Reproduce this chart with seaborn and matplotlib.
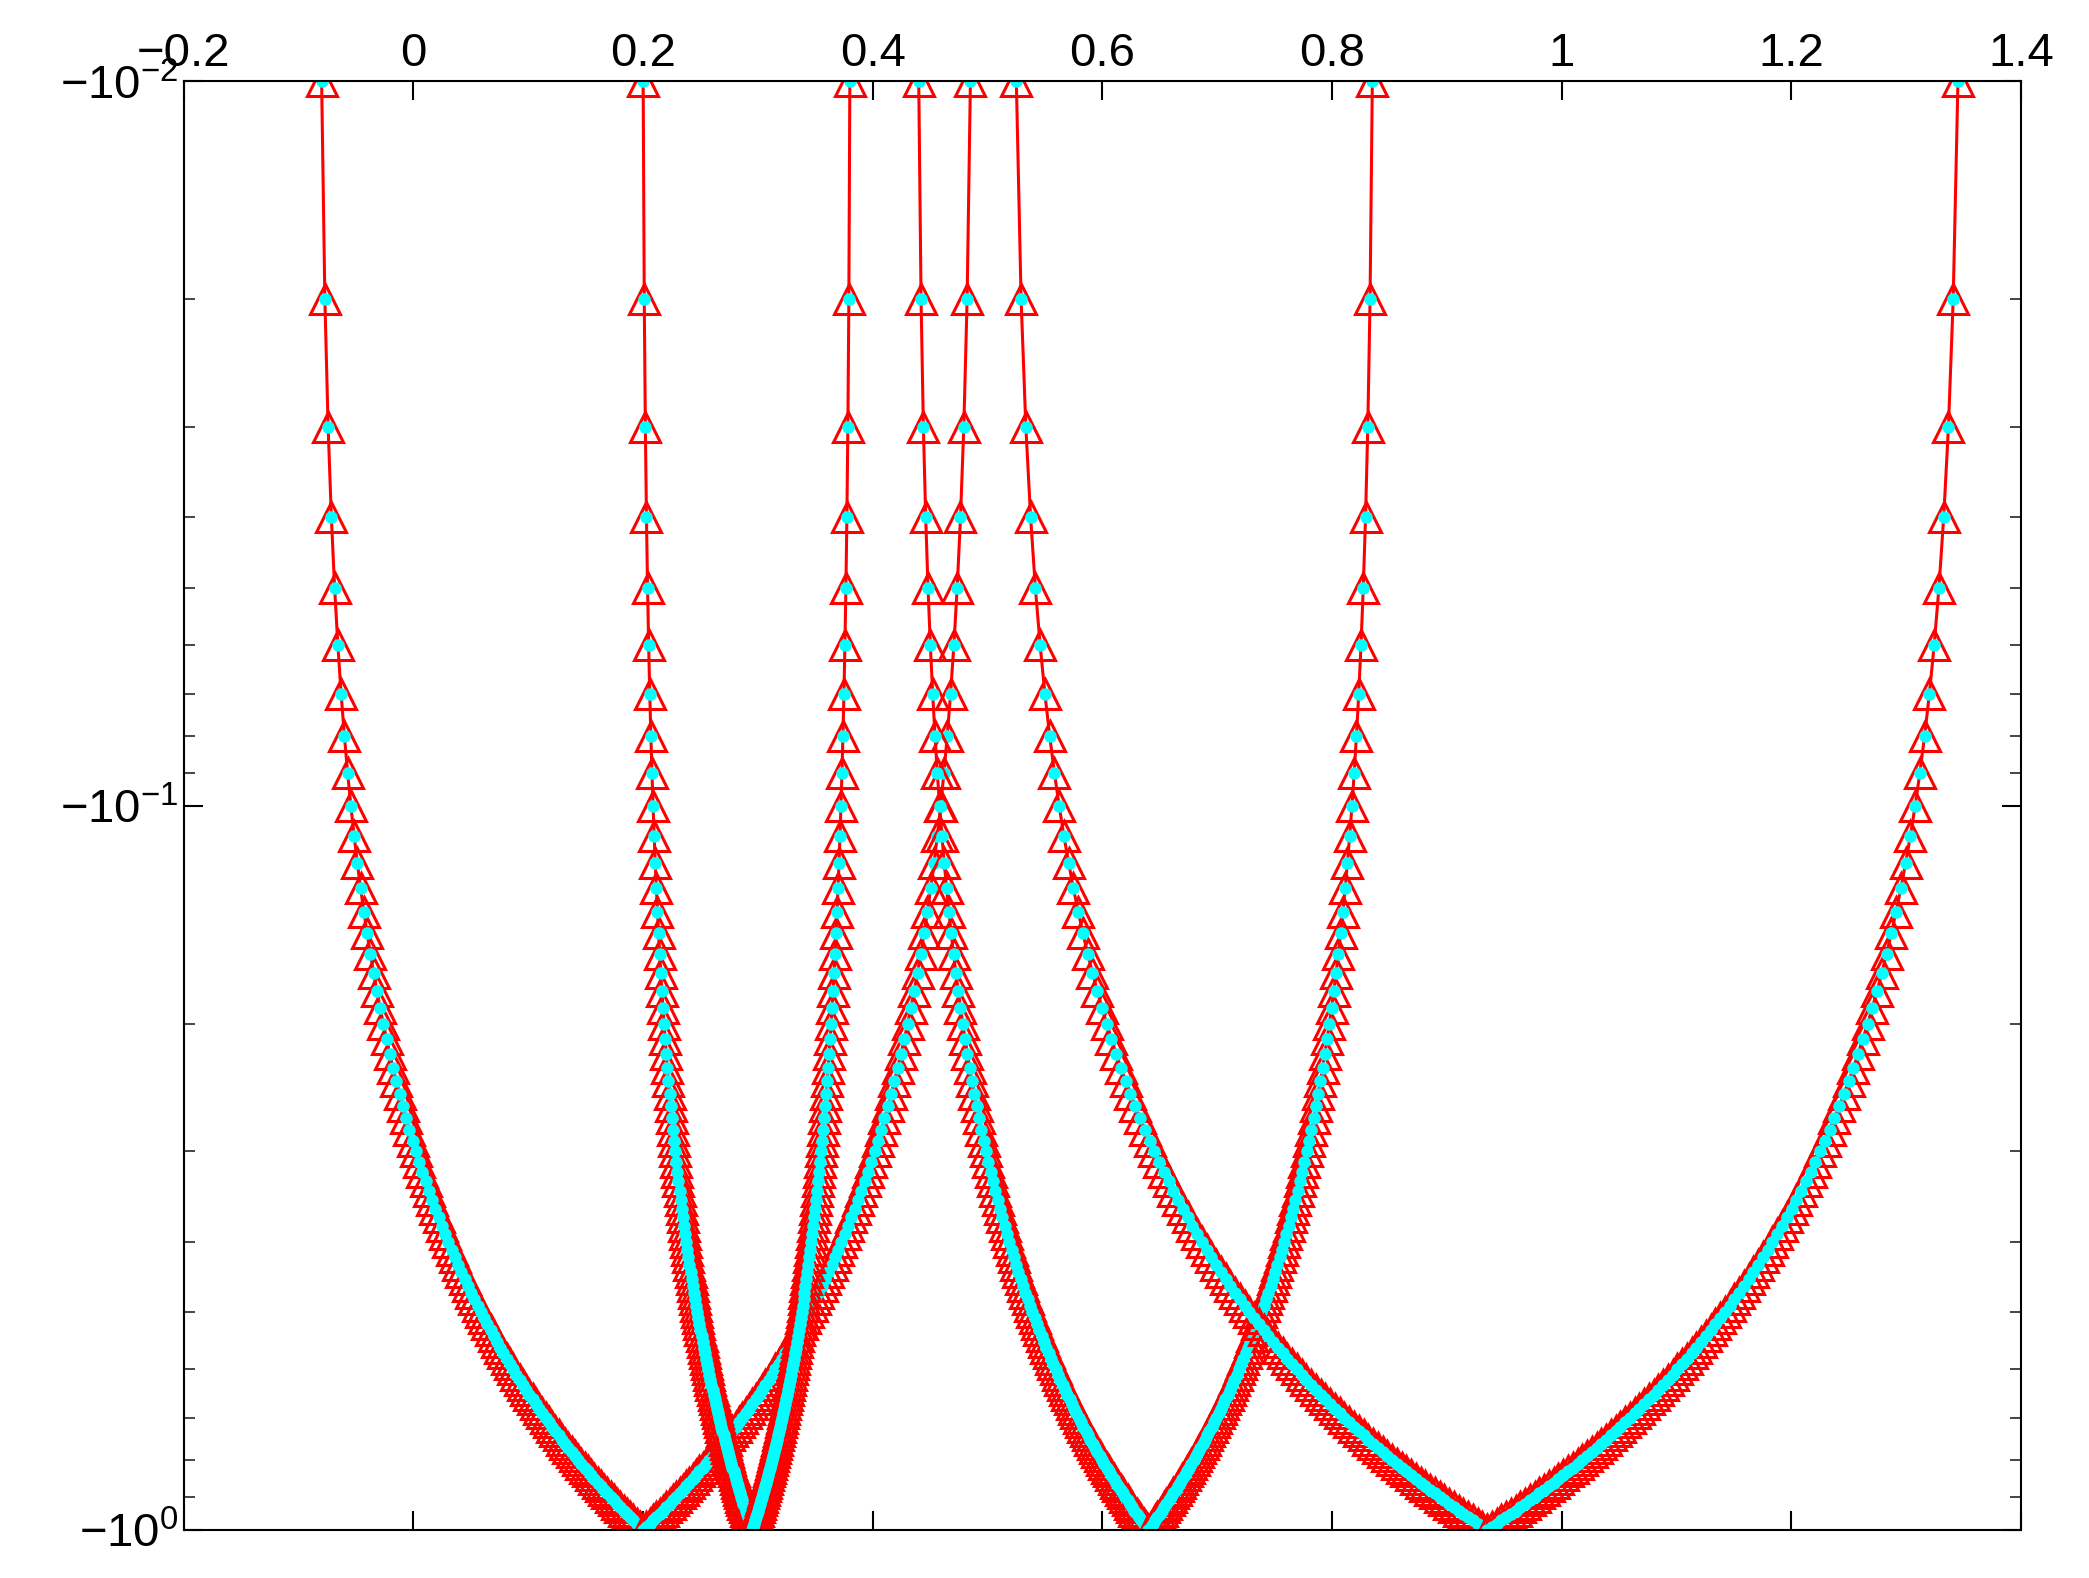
import numpy as np
import matplotlib
matplotlib.use("Agg")
import matplotlib.pyplot as plt
import seaborn as sns
from matplotlib.ticker import FixedLocator, FixedFormatter, NullFormatter

sns.set_theme(style="white")
plt.rcParams['font.family'] = ['Liberation Sans', 'DejaVu Sans']
plt.rcParams['mathtext.fontset'] = 'custom'
plt.rcParams['mathtext.rm'] = 'Liberation Sans'
plt.rcParams['mathtext.it'] = 'Liberation Sans'

# magnitude of y values (plotted as negative on log axis)
y_mag = np.arange(1, 101) / 100.0
# each curve is straight in x vs y: top x (at y=-0.01) and bottom x (at y=-1)
x_top = [-0.08, 0.485, 0.20, 0.38, 0.44, 0.835, 0.525, 1.345]
x_bot = [0.20, 0.20, 0.295, 0.295, 0.64, 0.64, 0.935, 0.935]

fig = plt.figure(figsize=(20.89, 15.78), dpi=100)
ax = fig.add_axes([0.088, 0.0304, 0.8795, 0.918])
for xt, xb in zip(x_top, x_bot):
    x = np.interp(y_mag, [0.01, 1.0], [xt, xb])
    sns.lineplot(x=x, y=y_mag, ax=ax, color='red', lw=2.2, marker='^', ms=21,
                 mfc='none', mec='red', mew=2.2, sort=False, estimator=None)
    ax.plot(x, y_mag, ls='none', marker='o', ms=8, color='cyan', mec='cyan')

ax.set_yscale('log')
ax.set_ylim(1.0, 0.01)
ax.set_xlim(-0.2, 1.4)
ax.xaxis.tick_top()
ax.set_xticks(np.round(np.arange(-0.2, 1.41, 0.2), 1))
ax.set_xticklabels(['\u22120.2', '0', '0.2', '0.4', '0.6', '0.8', '1', '1.2', '1.4'])
ax.yaxis.set_major_locator(FixedLocator([0.01, 0.1, 1.0]))
ax.yaxis.set_major_formatter(FixedFormatter([r'$-10^{-2}$', r'$-10^{-1}$', r'$-10^{0}$']))
minors = [m * d for d in (0.01, 0.1) for m in range(2, 10)]
ax.yaxis.set_minor_locator(FixedLocator(minors))
ax.yaxis.set_minor_formatter(NullFormatter())
ax.tick_params(axis='both', which='major', direction='in', length=14, width=1.5,
               labelsize=34, top=True, bottom=True, left=True, right=True,
               labeltop=True, labelbottom=False, colors='black')
ax.tick_params(axis='y', which='minor', direction='in', length=8, width=1.2,
               left=True, right=True)
ax.tick_params(axis='x', which='major', pad=4)
for s in ax.spines.values():
    s.set_color('black'); s.set_linewidth(1.5)
ax.set_xlabel(''); ax.set_ylabel('')
fig.savefig('out.png', dpi=100, facecolor='white')
